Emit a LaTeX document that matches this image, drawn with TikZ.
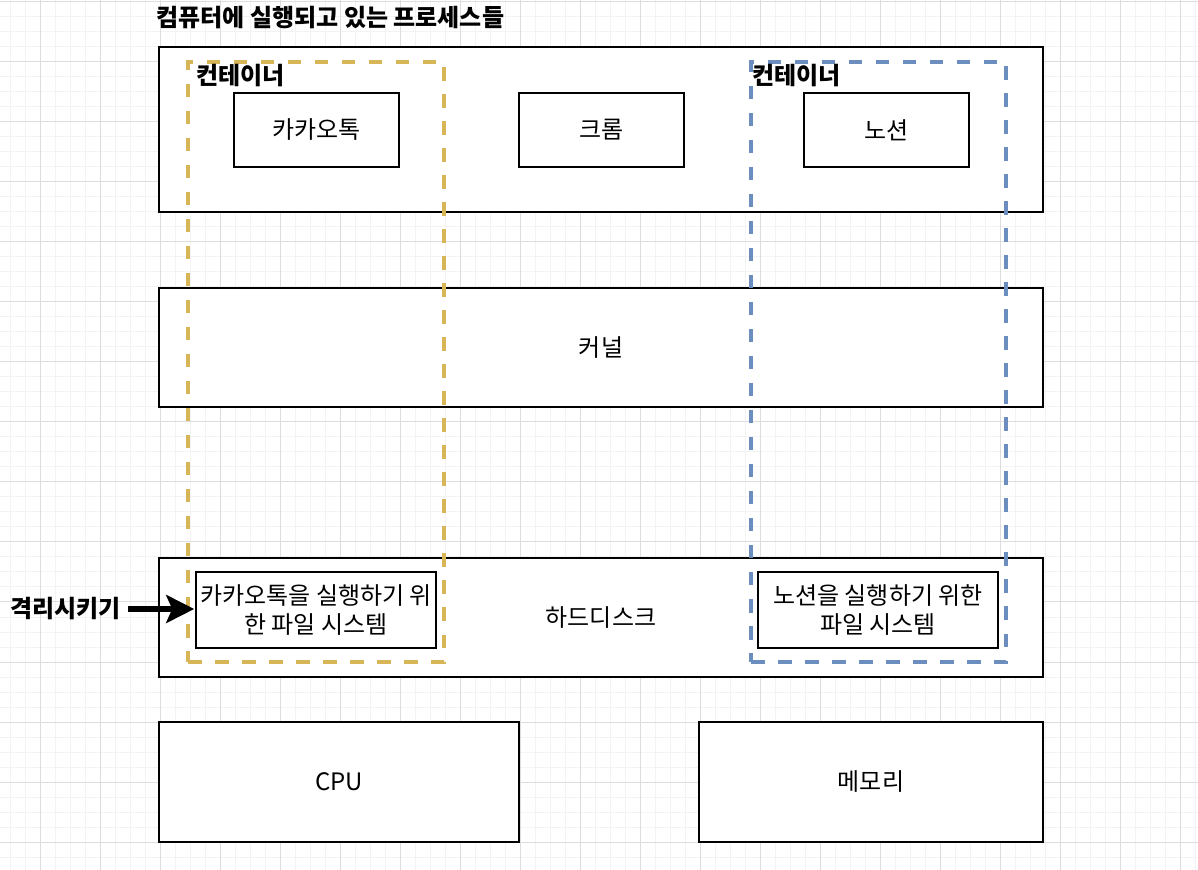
\documentclass[tikz,border=0pt]{standalone}
\usepackage{fontspec}
\setmainfont{Noto Sans CJK KR}
\usetikzlibrary{arrows.meta}

\definecolor{ctryellow}{HTML}{D6B656}
\definecolor{ctrblue}{HTML}{6C8EBF}
\definecolor{gridmajor}{HTML}{DDDDDD}
\definecolor{gridminor}{HTML}{F3F3F3}

\tikzset{
  box/.style={draw, line width=0.8pt, fill=white, inner sep=0pt, align=center,
    font=\fontsize{12}{14.5}\selectfont},
  ctr/.style={draw=#1, line width=2pt, dash pattern=on 6.75pt off 6.75pt, inner sep=0pt},
  ctrlabel/.style={anchor=west, inner sep=0pt, font=\bfseries\fontsize{12}{14}\selectfont},
}

\begin{document}
\begin{tikzpicture}[x=0.5pt, y=-0.5pt]
\useasboundingbox (0,0) rectangle (1198,870);
% background grid
\foreach \gx in {10,25,...,1198} \draw[gridminor, line width=0.5pt] (\gx,0) -- (\gx,870);
\foreach \gy in {2,17,...,870} \draw[gridminor, line width=0.5pt] (0,\gy) -- (1198,\gy);
\foreach \gx in {40,100,...,1198} \draw[gridmajor, line width=0.5pt] (\gx,0) -- (\gx,870);
\foreach \gy in {2,62,...,870} \draw[gridmajor, line width=0.5pt] (0,\gy) -- (1198,\gy);

\node[anchor=west, inner sep=0pt, font=\bfseries\fontsize{12}{14}\selectfont] (title) at (156,18) {컴퓨터에 실행되고 있는 프로세스들};

% layers
\node[box, minimum width=442pt, minimum height=82.5pt] (procs) at (601,129.5) {};
\node[box, minimum width=442pt, minimum height=59.5pt] (kernel) at (601,347.5) {커널};
\node[box, minimum width=442pt, minimum height=59.5pt] (disk) at (601,617.5) {하드디스크};
\node[box, minimum width=180pt, minimum height=60pt] (cpu) at (339,782) {CPU};
\node[box, minimum width=172pt, minimum height=60pt] (mem) at (871,782) {메모리};

% processes
\node[box, minimum width=82.5pt, minimum height=37pt] (kakao) at (316.5,130) {카카오톡};
\node[box, minimum width=82.5pt, minimum height=37pt] (chrome) at (601.5,130) {크롬};
\node[box, minimum width=82.5pt, minimum height=37pt] (notion) at (886.5,130) {노션};

% file systems
\node[box, minimum width=120pt, minimum height=38pt] (kakaofs) at (316,610) {카카오톡을 실행하기 위\\한 파일 시스템};
\node[box, minimum width=120pt, minimum height=38pt] (notionfs) at (878,610) {노션을 실행하기 위한\\파일 시스템};

% containers
\node[ctr=ctryellow, minimum width=128pt, minimum height=300pt] (ctrkakao) at (316,362) {};
\node[ctr=ctrblue, minimum width=127.5pt, minimum height=300pt] (ctrnotion) at (878.5,362) {};
\node[ctrlabel] (ctrkakaolbl) at (196,76) {컨테이너};
\node[ctrlabel] (ctrnotionlbl) at (752,76) {컨테이너};

% isolation
\node[anchor=east, inner sep=0pt, font=\bfseries\fontsize{12}{14}\selectfont] (iso) at (121,609) {격리시키기};
\draw[-{Stealth[length=14pt, width=14pt, inset=3pt]}, line width=2.5pt, shorten <=3.5pt, shorten >=0.5pt] (iso.east) -- (kakaofs.west |- iso.east);
\end{tikzpicture}
\end{document}
